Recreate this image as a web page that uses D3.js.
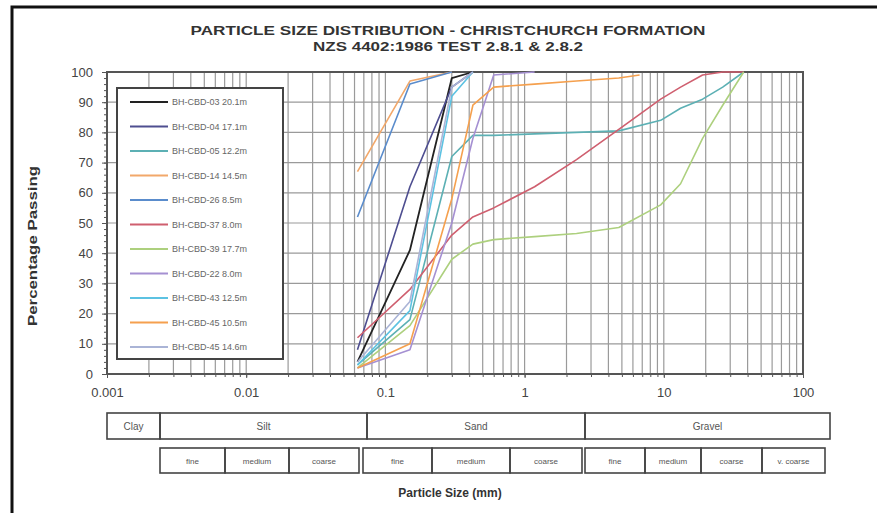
<!DOCTYPE html>
<html lang="en">
<head>
<meta charset="utf-8">
<style>
  html, body { margin: 0; padding: 0; background: #fff; }
  svg { display: block; font-family: "Liberation Sans", Arial, sans-serif; }
</style>
</head>
<body>
<script src="https://d3js.org/d3.v7.min.js"></script>
<script>
// sample names and depths (legend order)
var sampleNames = ['BH-CBD-03 20.1m', 'BH-CBD-04 17.1m', 'BH-CBD-05 12.2m', 'BH-CBD-14 14.5m',
  'BH-CBD-26 8.5m', 'BH-CBD-37 8.0m', 'BH-CBD-39 17.7m', 'BH-CBD-22 8.0m',
  'BH-CBD-43 12.5m', 'BH-CBD-45 10.5m', 'BH-CBD-45 14.6m'];

// sieve sizes (mm) used for each sample
var sizesSand = [0.063, 0.15, 0.3, 0.425];
var sizesFull = [0.063, 0.15, 0.3, 0.425, 0.6, 1.18, 2.36, 4.75, 9.5, 13.2, 19, 26.5, 37.5];
var sizesFine = [0.063, 0.15, 0.3];
var sizesMid = [0.063, 0.15, 0.3, 0.425, 0.6, 1.18, 2.36, 4.75, 6.7];
var sizesPurple = [0.063, 0.15, 0.3, 0.425, 0.6, 1.18];

// percentage passing
var pass03 = [4, 41, 98, 100];
var pass04 = [8, 62, 95, 100];
var pass05 = [3, 18, 72, 79, 79, 79.5, 80, 80.5, 84, 88, 91, 95, 100];
var pass14 = [67, 97, 100];
var pass26 = [52, 96, 100];
var pass37 = [12, 28, 46, 52, 55, 62, 71, 81, 91, 95, 99, 100, 100];
var pass39 = [2, 16, 38, 43, 44.5, 45.5, 46.5, 48.5, 56, 63, 78, 89, 100];
var pass22 = [2, 8, 50, 78, 99, 100];
var pass43 = [3, 21, 92, 100];
var pass4510 = [2, 10, 58, 89, 95, 96, 97, 98, 99];
var pass4514 = [4, 24, 95, 100];

var seriesSizes = [sizesSand, sizesSand, sizesFull, sizesFine, sizesFine, sizesFull, sizesFull,
  sizesPurple, sizesSand, sizesMid, sizesSand];
var seriesPass = [pass03, pass04, pass05, pass14, pass26, pass37, pass39, pass22, pass43, pass4510, pass4514];
var seriesColors = ['#222222', '#4e4e90', '#5cb0b4', '#f2a86a', '#5a8ccc', '#cf5f6f', '#add07e',
  '#a590d2', '#5cc2e2', '#f5a04e', '#aab4d6'];

var yTicks = [0, 10, 20, 30, 40, 50, 60, 70, 80, 90, 100];
var xTicks = [0.001, 0.01, 0.1, 1, 10, 100];
var xTickLabels = ['0.001', '0.01', '0.1', '1', '10', '100'];

var mainBands = ['Clay', 'Silt', 'Sand', 'Gravel'];
var subBands = [['fine', 'medium', 'coarse'], ['fine', 'medium', 'coarse'], ['fine', 'medium', 'coarse', 'v. coarse']];

var W = 877, H = 513;
var plot = {left: 107, right: 803, top: 72, bottom: 374};

var svg = d3.select('body').append('svg').attr('width', W).attr('height', H);

// outer frame (only top and left visible)
svg.append('path')
  .attr('d', 'M12,' + H + 'V7H' + W)
  .attr('fill', 'none').attr('stroke', '#111').attr('stroke-width', 3);

var x = d3.scaleLog().domain([0.001, 100]).range([plot.left, plot.right]);
var y = d3.scaleLinear().domain([0, 100]).range([plot.bottom, plot.top]);

// title
svg.append('text').attr('x', 448).attr('y', 35).attr('text-anchor', 'middle')
  .attr('font-size', 13).attr('font-weight', 'bold').attr('fill', '#333')
  .attr('textLength', 515).attr('lengthAdjust', 'spacingAndGlyphs')
  .text('PARTICLE SIZE DISTRIBUTION - CHRISTCHURCH FORMATION');
svg.append('text').attr('x', 448).attr('y', 51).attr('text-anchor', 'middle')
  .attr('font-size', 13).attr('font-weight', 'bold').attr('fill', '#333')
  .attr('textLength', 270).attr('lengthAdjust', 'spacingAndGlyphs')
  .text('NZS 4402:1986 TEST 2.8.1 & 2.8.2');

// grid
var grid = svg.append('g');
grid.selectAll('line.v').data(x.ticks()).enter().append('line')
  .attr('x1', d => x(d)).attr('x2', d => x(d))
  .attr('y1', plot.top).attr('y2', plot.bottom)
  .attr('stroke', '#9a9a9a').attr('stroke-width', 1.2);
grid.selectAll('line.h').data(yTicks).enter().append('line')
  .attr('x1', plot.left).attr('x2', plot.right)
  .attr('y1', d => y(d)).attr('y2', d => y(d))
  .attr('stroke', '#9a9a9a').attr('stroke-width', 1.2);

// axes
svg.append('g').attr('transform', 'translate(' + plot.left + ',0)')
  .call(d3.axisLeft(y).tickValues(yTicks).tickSize(5).tickPadding(9));
svg.append('g').attr('transform', 'translate(' + plot.left + ',0)')
  .call(d3.axisLeft(y).tickValues(d3.range(0, 101, 2)).tickSize(3).tickFormat(''))
  .call(g => g.select('.domain').remove());
svg.append('g').attr('transform', 'translate(0,' + plot.bottom + ')')
  .call(d3.axisBottom(x).tickValues(xTicks).tickSize(4).tickPadding(10)
    .tickFormat((d, i) => xTickLabels[i]));
svg.append('g').attr('transform', 'translate(0,' + plot.bottom + ')')
  .call(d3.axisBottom(x).tickValues(x.ticks()).tickSize(3).tickFormat(''))
  .call(g => g.select('.domain').remove());
svg.selectAll('.tick text').attr('font-size', 13).attr('fill', '#444')
  .attr('font-family', '"Liberation Sans", Arial, sans-serif');
svg.selectAll('.tick line').attr('stroke', '#555');
svg.selectAll('.domain').attr('stroke', '#444');

// plot frame
svg.append('rect').attr('x', plot.left).attr('y', plot.top)
  .attr('width', plot.right - plot.left).attr('height', plot.bottom - plot.top)
  .attr('fill', 'none').attr('stroke', '#555').attr('stroke-width', 2);

// curves
var line = d3.line().x(d => x(d[0])).y(d => y(d[1]));
var curves = svg.append('g').attr('fill', 'none');
seriesPass.forEach(function(vals, i) {
  var pts = vals.map((v, j) => [seriesSizes[i][j], v]);
  curves.append('path').datum(pts).attr('d', line)
    .attr('stroke', seriesColors[i]).attr('stroke-width', i === 0 ? 1.8 : 1.6)
    .attr('stroke-linejoin', 'round');
});

// legend
var legend = svg.append('g');
legend.append('rect').attr('x', 117).attr('y', 88).attr('width', 166).attr('height', 271)
  .attr('fill', '#fff').attr('stroke', '#444').attr('stroke-width', 2);
var legItem = legend.selectAll('g.item').data(sampleNames).enter().append('g')
  .attr('transform', (d, i) => 'translate(130,' + (102 + i * 24.5) + ')');
legItem.append('line').attr('x1', 0).attr('x2', 38)
  .attr('stroke', (d, i) => seriesColors[i]).attr('stroke-width', 1.8);
legItem.append('text').attr('x', 42).attr('y', 3).attr('font-size', 9).attr('fill', '#666')
  .text(d => d);

// axis titles
svg.append('text').attr('transform', 'translate(37,246) rotate(-90)').attr('text-anchor', 'middle')
  .attr('font-size', 12).attr('font-weight', 'bold').attr('fill', '#333')
  .attr('textLength', 160).attr('lengthAdjust', 'spacingAndGlyphs')
  .text('Percentage Passing');
svg.append('text').attr('x', 450).attr('y', 497).attr('text-anchor', 'middle')
  .attr('font-size', 12).attr('font-weight', 'bold').attr('fill', '#333')
  .text('Particle Size (mm)');

// soil classification strip (schematic, not to axis scale)
var mainEdges = [107, 160, 367, 585, 830];
var subEdges = [[160, 225, 289, 359], [363, 432, 510, 582], [585, 645, 701, 762, 825]];
var strip = svg.append('g').attr('fill', 'none').attr('stroke', '#444').attr('stroke-width', 1.6);
mainBands.forEach(function(lbl, i) {
  strip.append('rect').attr('x', mainEdges[i]).attr('y', 413)
    .attr('width', mainEdges[i + 1] - mainEdges[i]).attr('height', 26);
  svg.append('text').attr('x', (mainEdges[i] + mainEdges[i + 1]) / 2).attr('y', 430)
    .attr('text-anchor', 'middle').attr('font-size', 10).attr('fill', '#555').text(lbl);
});
subBands.forEach(function(grp, g) {
  grp.forEach(function(lbl, i) {
    var e = subEdges[g];
    strip.append('rect').attr('x', e[i]).attr('y', 448)
      .attr('width', e[i + 1] - e[i]).attr('height', 25);
    svg.append('text').attr('x', (e[i] + e[i + 1]) / 2).attr('y', 464)
      .attr('text-anchor', 'middle').attr('font-size', 8).attr('fill', '#555').text(lbl);
  });
});
</script>
</body>
</html>
